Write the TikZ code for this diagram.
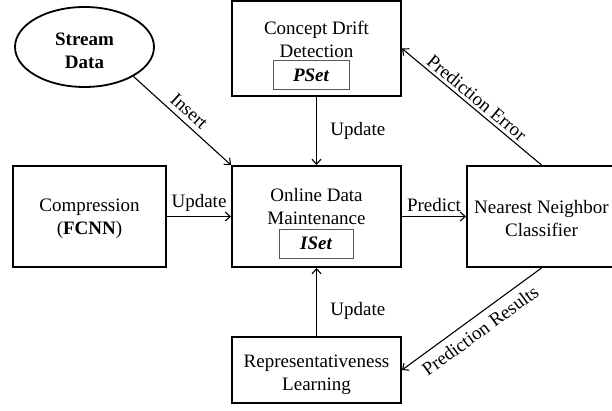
\documentclass[tikz,border=0pt]{standalone}
\usepackage{fontspec}
\setmainfont{Liberation Serif}
\usepackage{tikz}
\usetikzlibrary{
    arrows.meta,
    shapes.geometric,
    positioning
}
\definecolor{setgray}{gray}{0.35}
\newcommand{\bodyfont}{\fontsize{19}{23}\selectfont}
\tikzstyle{block} = [
    rectangle,
    draw=black,
    line width=2pt,
    minimum width=169pt,
    minimum height=101pt,
    inner sep=0pt
]
\tikzstyle{setbox} = [
    rectangle,
    draw=setgray,
    line width=0.9pt,
    minimum width=76pt,
    minimum height=29pt,
    inner sep=0pt,
    font=\bodyfont\bfseries\itshape
]
\tikzstyle{txt} = [
    align=center,
    inner sep=0pt
]
\tikzstyle{arrow} = [
    -{Straight Barb[length=5pt,width=9pt]},
    line width=1.1pt
]
\tikzstyle{edgelabel} = [
    inner sep=1pt
]

\begin{document}
\begin{tikzpicture}[x=1pt, y=-1pt, font=\bodyfont]
        \useasboundingbox (0,0) rectangle (612,411);

        % Source
        \node[ellipse, draw, line width=1.8pt, minimum width=139pt, minimum height=80pt] (stream) at (84.5,47) {};
        \node[txt, font=\bodyfont\bfseries] (stream_txt) at (84.5,50.5) {Stream\\Data};

        % Boxes
        \node[block, minimum height=95pt] (concept) at (316.5,48.5) {};
        \node[txt] (concept_txt) at (316.5,39.5) {Concept Drift\\Detection};
        \node[setbox] (pset) at (311,75) {PSet};

        \node[block] (online) at (316.5,216.5) {};
        \node[txt] (online_txt) at (316.5,207) {Online Data\\Maintenance};
        \node[setbox, minimum width=74pt] (iset) at (316,243.5) {ISet};

        \node[block, minimum width=153pt] (compress) at (89.5,216.5) {};
        \node[txt] (compress_txt) at (89.5,219) {Compression\\(\textbf{FCNN})};

        \node[block, minimum width=149pt] (nn) at (541.5,216.5) {};
        \node[txt] (nn_txt) at (541.5,218.5) {Nearest Neighbor\\Classifier};

        \node[block, minimum height=66pt] (repr) at (316.5,370) {};
        \node[txt] (repr_txt) at (316.5,374.5) {Representativeness\\Learning};

        % Arrows
        \draw[arrow] (stream.-31) -- node[edgelabel, sloped, above=4pt, pos=0.49] {Insert} (online.north west);
        \draw[arrow] (concept.south) -- node[right=10pt] {Update} (online.north);
        \draw[arrow] (compress.east) -- node[above=1pt] {Update} (online.west);
        \draw[arrow] (online.east) -- node[above=1pt] {Predict} (nn.west);
        \draw[arrow] (nn.north) -- node[edgelabel, sloped, above=2pt, pos=0.51] {Prediction Error} (concept.east);
        \draw[arrow] (nn.south) -- node[edgelabel, sloped, below=6pt, pos=0.5] {Prediction Results} (repr.east);
        \draw[arrow] (repr.north) -- node[right=10pt, pos=0.37] {Update} (online.south);
    \end{tikzpicture}
\end{document}
